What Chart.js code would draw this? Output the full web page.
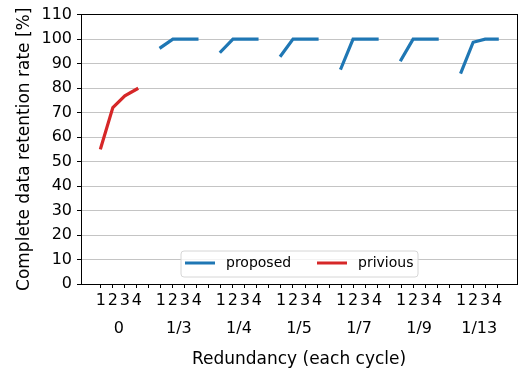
<!DOCTYPE html>
<html>
<head>
<meta charset="utf-8">
<script src="https://cdn.jsdelivr.net/npm/chart.js@4"></script>
<style>
    body { margin: 0; background: #fff; }
    #wrap { width: 522px; height: 373px; }
</style>
</head>
<body>
<div id="wrap"><canvas id="myChart"></canvas></div>
<script>
"use strict";

/* gruppernas namn och positioner inom varje grupp */
const groupLabels = ['0', '1/3', '1/4', '1/5', '1/7', '1/9', '1/13'];
const cycleLabels = ['1', '2', '3', '4'];
const yTicks = [0, 10, 20, 30, 40, 50, 60, 70, 80, 90, 100, 110];

/* värden */
const previous = [55.6, 72, 76.8, 79.6];
const proposed1_3 = [96.6, 100, 100, 100];
const proposed1_4 = [94.9, 100, 100, 100];
const proposed1_5 = [93.3, 100, 100, 100];
const proposed1_7 = [88.1, 100, 100, 100];
const proposed1_9 = [91.5, 100, 100, 100];
const proposed1_13 = [86.5, 98.7, 100, 100];

const proposedGroups = [proposed1_3, proposed1_4, proposed1_5, proposed1_7, proposed1_9, proposed1_13];
const slot = cycleLabels.length + 1;

/* punkter för grupp g */
function groupPoints(g, values) {
    return values.map((v, c) => ({ x: g * slot + c + 1, y: v }));
}

const previousData = groupPoints(0, previous);
let proposedData = [];
proposedGroups.forEach((vals, i) => {
    const g = i + 1;
    proposedData = proposedData.concat(groupPoints(g, vals));
    proposedData.push({ x: g * slot + slot, y: null });
});

const xTicks = [];
for (let i = 1; i <= groupLabels.length * slot - 1; i++) xTicks.push(i);
const groupCenters = groupLabels.map((l, g) => g * slot + (cycleLabels.length + 1) / 2);

const font = { family: 'DejaVu Sans', size: 16 };
const titleFont = { family: 'DejaVu Sans', size: 17 };

/* legend inne i diagrammet */
const legendBox = {
    id: 'legendBox',
    afterDraw(chart) {
        const ctx = chart.ctx;
        const x0 = 181, y0 = 251, w = 237, h = 26;
        ctx.save();
        ctx.beginPath();
        ctx.roundRect(x0, y0, w, h, 3);
        ctx.fillStyle = 'rgba(255,255,255,0.8)';
        ctx.fill();
        ctx.strokeStyle = '#d6d6d6';
        ctx.lineWidth = 1;
        ctx.stroke();
        const items = [{ ds: chart.data.datasets[0], x: 185 }, { ds: chart.data.datasets[1], x: 317 }];
        items.forEach(it => {
            ctx.beginPath();
            ctx.moveTo(it.x, y0 + 12);
            ctx.lineTo(it.x + 30, y0 + 12);
            ctx.strokeStyle = it.ds.borderColor;
            ctx.lineWidth = 3;
            ctx.stroke();
            ctx.fillStyle = '#000';
            ctx.font = '14px "DejaVu Sans"';
            ctx.textBaseline = 'middle';
            ctx.fillText(it.ds.label, it.x + 41, y0 + 12);
        });
        ctx.restore();
    }
};

const ctx1 = document.getElementById('myChart');

new Chart(ctx1, {
    type: 'line',
    data: {
        datasets: [{
            label: 'proposed',
            data: proposedData,
            borderColor: '#1f77b4',
            borderWidth: 3.2,
            pointRadius: 0,
            spanGaps: false,
            borderCapStyle: 'square'
        }, {
            label: 'privious',
            data: previousData,
            borderColor: '#d62728',
            borderWidth: 3.2,
            pointRadius: 0,
            borderCapStyle: 'square'
        }]
    },
    options: {
        responsive: true,
        maintainAspectRatio: false,
        animation: false,
        layout: { padding: { left: 0, right: 5, top: 10, bottom: 0 } },
        plugins: {
            legend: { display: false },
            tooltip: { enabled: false }
        },
        scales: {
            x: {
                type: 'linear',
                position: 'bottom',
                weight: 0,
                min: -0.65,
                max: 35.65,
                afterBuildTicks: axis => { axis.ticks = xTicks.map(v => ({ value: v })); },
                afterFit: axis => { axis.height = 28; },
                grid: { drawOnChartArea: false, tickLength: 4, tickColor: '#000' },
                border: { display: true, color: '#000', width: 1 },
                ticks: {
                    autoSkip: false,
                    maxRotation: 0,
                    padding: 3,
                    color: '#000',
                    font: font,
                    callback: v => (v % slot === 0 ? '' : cycleLabels[(v % slot) - 1])
                }
            },
            xg: {
                type: 'linear',
                position: 'bottom',
                weight: 1,
                min: -0.65,
                max: 35.65,
                afterBuildTicks: axis => { axis.ticks = groupCenters.map(v => ({ value: v })); },
                afterFit: axis => { axis.height = 61; },
                grid: { display: false, drawTicks: false },
                border: { display: false },
                ticks: {
                    autoSkip: false,
                    maxRotation: 0,
                    padding: 7,
                    color: '#000',
                    font: font,
                    callback: (v, i) => groupLabels[i]
                },
                title: {
                    display: true,
                    text: 'Redundancy (each cycle)',
                    color: '#000',
                    font: titleFont,
                    padding: { top: 4, bottom: 3 }
                }
            },
            xTop: {
                type: 'linear',
                position: 'top',
                min: -0.65,
                max: 35.65,
                afterFit: axis => { axis.height = 0; },
                grid: { display: false },
                border: { display: true, color: '#000', width: 1 },
                ticks: { display: false }
            },
            y: {
                position: 'left',
                min: 0,
                max: 110,
                afterBuildTicks: axis => { axis.ticks = yTicks.map(v => ({ value: v })); },
                afterFit: axis => { axis.width = 81; },
                grid: { color: '#c4c4c4', lineWidth: 1, tickLength: 4, tickColor: '#000' },
                border: { display: true, color: '#000', width: 1 },
                ticks: { padding: 5, color: '#000', font: font },
                title: {
                    display: true,
                    text: 'Complete data retention rate [%]',
                    color: '#000',
                    font: titleFont,
                    padding: { top: 14, bottom: 0 }
                }
            },
            yRight: {
                position: 'right',
                min: 0,
                max: 110,
                afterFit: axis => { axis.width = 0; },
                grid: { display: false },
                border: { display: true, color: '#000', width: 1 },
                ticks: { display: false }
            }
        }
    },
    plugins: [legendBox]
});
</script>
</body>
</html>
